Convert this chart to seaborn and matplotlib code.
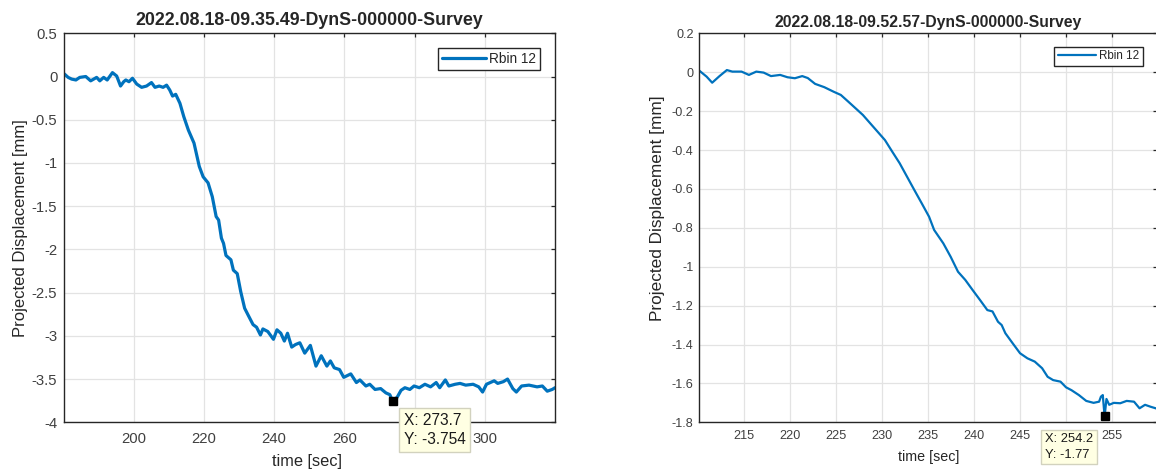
import numpy as np
import seaborn as sns
import matplotlib
matplotlib.use("Agg")
import matplotlib.pyplot as plt
import matplotlib.ticker as mticker

# ---- data ----
left_title = "2022.08.18-09.35.49-DynS-000000-Survey"
left_time = [180.3, 181.4, 182.4, 183.6, 184.7, 186.4, 187.8, 189.5, 190.4, 191.5,
             192.5, 194.0, 195.2, 196.3, 197.2, 197.8, 198.7, 199.7, 200.9, 202.3,
             203.7, 205.1, 206.1, 207.3, 208.4, 209.4, 210.3, 211.1, 212.0, 213.2,
             214.3, 215.6, 217.2, 218.7, 219.8, 220.6, 221.2, 222.4, 223.5, 224.2,
             225.0, 225.6, 226.3, 227.7, 228.4, 229.5, 230.5, 231.6, 232.6, 234.0,
             235.0, 236.1, 236.8, 238.2, 239.8, 240.8, 241.9, 242.9, 243.8, 245.0,
             246.1, 247.3, 248.7, 250.3, 251.9, 253.4, 255.0, 256.0, 257.1, 258.6,
             259.8, 260.8, 261.8, 263.4, 264.4, 266.1, 267.2, 268.7, 270.3, 271.8,
             272.9, 273.7, 275.0, 276.1, 277.2, 278.6, 279.8, 281.3, 282.9, 284.5,
             286.1, 287.1, 288.7, 289.7, 291.5, 292.9, 294.5, 296.6, 298.2, 299.3,
             300.4, 302.6, 303.6, 305.2, 306.4, 307.9, 308.9, 310.4, 312.5, 314.8,
             316.3, 317.7, 319.1, 319.9]
left_disp = [0.03, -0.01, -0.03, -0.04, -0.01, 0.00, -0.05, -0.01, -0.05, -0.01,
             -0.04, 0.045, 0.006, -0.11, -0.06, -0.04, -0.06, -0.02, -0.087, -0.125,
             -0.11, -0.07, -0.125, -0.11, -0.125, -0.10, -0.156, -0.226, -0.206, -0.31,
             -0.465, -0.62, -0.77, -1.04, -1.16, -1.20, -1.23, -1.39, -1.62, -1.66,
             -1.87, -1.93, -2.07, -2.12, -2.24, -2.28, -2.49, -2.68, -2.76, -2.87,
             -2.90, -2.99, -2.92, -2.95, -3.04, -2.93, -2.97, -3.06, -2.97, -3.13,
             -3.10, -3.08, -3.20, -3.11, -3.35, -3.23, -3.35, -3.29, -3.37, -3.39,
             -3.48, -3.46, -3.44, -3.54, -3.51, -3.58, -3.56, -3.62, -3.61, -3.66,
             -3.68, -3.754, -3.71, -3.63, -3.60, -3.62, -3.58, -3.60, -3.56, -3.59,
             -3.54, -3.60, -3.51, -3.58, -3.56, -3.55, -3.57, -3.56, -3.59, -3.65,
             -3.56, -3.52, -3.55, -3.53, -3.50, -3.61, -3.65, -3.58, -3.57, -3.59,
             -3.58, -3.64, -3.62, -3.60]
left_tip = (273.7, -3.754)

right_title = "2022.08.18-09.52.57-DynS-000000-Survey"
right_time = [210.1, 210.9, 211.5, 212.3, 213.1, 213.7, 214.7, 215.5, 216.3, 217.1,
              217.9, 218.9, 219.7, 220.5, 221.3, 221.9, 222.7, 223.7, 224.7, 225.5,
              226.3, 227.3, 227.9, 228.7, 229.5, 230.3, 231.1, 231.9, 232.7, 233.5,
              234.3, 235.1, 235.65, 236.65, 237.45, 238.25, 239.04, 239.84, 240.64, 241.44,
              242.0, 242.6, 243.0, 243.4, 244.2, 245.0, 245.8, 246.6, 247.4, 248.0,
              248.6, 249.4, 250.0, 250.6, 251.4, 252.2, 253.0, 253.6, 253.8, 254.0,
              254.2, 254.4, 254.7, 255.2, 255.9, 256.6, 257.4, 258.0, 258.6, 259.2,
              259.9]
right_disp = [0.008, -0.023, -0.054, -0.02, 0.011, 0.003, 0.003, -0.014, 0.003, -0.002,
              -0.02, -0.014, -0.026, -0.031, -0.02, -0.03, -0.06, -0.077, -0.10, -0.117,
              -0.151, -0.194, -0.22, -0.263, -0.306, -0.349, -0.409, -0.468, -0.537, -0.606,
              -0.674, -0.743, -0.811, -0.88, -0.949, -1.026, -1.068, -1.12, -1.171, -1.223,
              -1.23, -1.283, -1.30, -1.342, -1.394, -1.445, -1.471, -1.488, -1.522, -1.566,
              -1.583, -1.591, -1.62, -1.635, -1.66, -1.69, -1.70, -1.694, -1.668, -1.66,
              -1.77, -1.68, -1.71, -1.70, -1.702, -1.69, -1.694, -1.728, -1.71, -1.72,
              -1.73]
right_tip = (254.2, -1.77)

series_name = "Rbin 12"
line_color = "#0072BD"

sns.set_style("white")
plt.rcParams["font.family"] = ["Liberation Sans", "DejaVu Sans"]
plt.rcParams["axes.unicode_minus"] = False

fig = plt.figure(figsize=(11.56, 4.75), dpi=100)
W, H = 1156.0, 475.0


def px_axes(x0, x1, y0, y1):
    return fig.add_axes([x0 / W, 1 - y1 / H, (x1 - x0) / W, (y1 - y0) / H])


def tick_fmt(v, p):
    v = round(v, 6)
    if abs(v) < 1e-9:
        v = 0.0
    return "%g" % v


def style_axes(ax, tick_fs, ypad, xpad):
    ax.grid(True, color="#E3E3E3", linewidth=0.9)
    ax.set_axisbelow(True)
    for s in ax.spines.values():
        s.set_color("#262626")
        s.set_linewidth(1.0)
    ax.tick_params(direction="in", top=True, right=True, length=3, width=0.9,
                   color="#262626", labelsize=tick_fs, labelcolor="#404040")
    ax.tick_params(axis="y", pad=ypad)
    ax.tick_params(axis="x", pad=xpad)
    ax.yaxis.set_major_formatter(mticker.FuncFormatter(tick_fmt))


def draw_tip(ax, pt, dx, dy, fs, ls):
    ax.plot([pt[0]], [pt[1]], marker="s", color="black", ms=6.3, zorder=6, clip_on=False)
    ax.annotate("X: %g\nY: %g" % pt, xy=pt, xytext=(dx, dy), textcoords="offset pixels",
                ha="left", va="top", fontsize=fs, color="#1a1a1a", linespacing=ls,
                annotation_clip=False, zorder=7,
                bbox=dict(boxstyle="square,pad=0.3", fc="#FFFFE3", ec="#D2D2BE", lw=1))


# ---- left panel ----
ax1 = px_axes(64.3, 555.0, 33.3, 422.3)
sns.lineplot(x=left_time, y=left_disp, ax=ax1, color=line_color, linewidth=2.3,
             label=series_name, estimator=None, sort=False)
ax1.set_xlim(180.3, 319.9)
ax1.set_ylim(-4, 0.5)
ax1.set_xticks(np.arange(200, 320, 20))
ax1.set_yticks(np.arange(-4, 0.51, 0.5))
style_axes(ax1, 10.7, 5, 7)
ax1.set_title(left_title, fontsize=12.8, fontweight="bold", pad=6)
ax1.set_xlabel("time [sec]", fontsize=11.8, color="#262626")
ax1.set_ylabel("Projected Displacement [mm]", fontsize=12.0, color="#262626")
ax1.xaxis.set_label_coords(0.495, -0.102)
ax1.xaxis.label.set_va("center")
ax1.yaxis.set_label_coords(-0.09, 0.5)
ax1.yaxis.label.set_va("center")
leg = ax1.legend(loc="upper right", bbox_to_anchor=(0.9695, 0.9622), borderaxespad=0,
                 fontsize=9.8, handlelength=3.2, handletextpad=0.25, borderpad=0.3,
                 fancybox=False, framealpha=1, edgecolor="#262626")
leg.get_frame().set_linewidth(1.0)
draw_tip(ax1, left_tip, 11, -12, 11.2, 1.35)

# ---- right panel ----
ax2 = px_axes(699.3, 1157.0, 33.3, 422.3)
sns.lineplot(x=right_time, y=right_disp, ax=ax2, color=line_color, linewidth=1.6,
             label=series_name, estimator=None, sort=False)
ax2.set_xlim(210.1, 259.9)
ax2.set_ylim(-1.8, 0.2)
ax2.set_xticks(np.arange(215, 260, 5))
ax2.set_yticks(np.arange(-1.8, 0.21, 0.2))
style_axes(ax2, 9.1, 4, 5.6)
ax2.set_title(right_title, fontsize=11.3, fontweight="bold", pad=4.7)
ax2.set_xlabel("time [sec]", fontsize=10.3, color="#262626")
ax2.set_ylabel("Projected Displacement [mm]", fontsize=12.4, color="#262626")
ax2.xaxis.set_label_coords(0.5008, -0.089)
ax2.xaxis.label.set_va("center")
ax2.yaxis.set_label_coords(-0.0924, 0.5496)
ax2.yaxis.label.set_va("center")
leg2 = ax2.legend(loc="upper right", bbox_to_anchor=(0.9694, 0.9656), borderaxespad=0,
                  fontsize=8.4, handlelength=3.3, handletextpad=0.25, borderpad=0.3,
                  fancybox=False, framealpha=1, edgecolor="#262626")
leg2.get_frame().set_linewidth(1.0)
draw_tip(ax2, right_tip, -60, -17, 9.3, 1.35)

fig.savefig("out.png", dpi=100)
